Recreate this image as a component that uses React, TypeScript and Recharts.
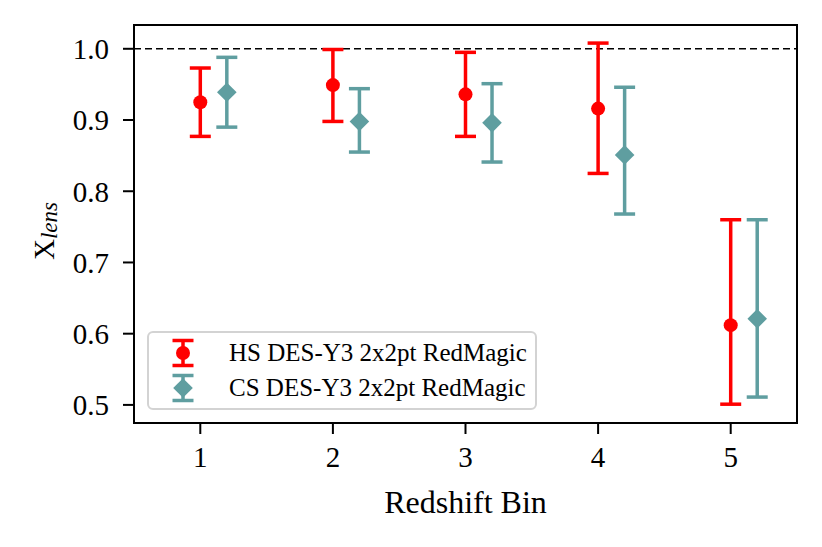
import React from 'react';
import { ScatterChart, Scatter, XAxis, YAxis, ErrorBar, ReferenceLine, ReferenceArea, Legend } from 'recharts';

const bins = [1, 2, 3, 4, 5];
const xTicks = [1, 2, 3, 4, 5];
const yTicks = [0.5, 0.6, 0.7, 0.8, 0.9, 1.0];
const xDomain = [0.5, 5.5];
const yDomain = [0.4746, 1.0334];
const hsValue = [0.925, 0.949, 0.936, 0.916, 0.612];
const hsLow = [0.877, 0.898, 0.877, 0.825, 0.501];
const hsHigh = [0.973, 0.999, 0.995, 1.008, 0.76];
const csValue = [0.939, 0.898, 0.896, 0.851, 0.621];
const csLow = [0.89, 0.855, 0.841, 0.768, 0.511];
const csHigh = [0.988, 0.944, 0.951, 0.946, 0.76];
const csShift = 0.2;
const seriesNames = ['HS DES-Y3 2x2pt RedMagic', 'CS DES-Y3 2x2pt RedMagic'];

const RED = '#ff0000';
const TEAL = '#5f9ea0';
const FONT = '"Liberation Serif", "Times New Roman", serif';

const hsData = bins.map((b, i) => ({ x: b, y: hsValue[i], err: [hsValue[i] - hsLow[i], hsHigh[i] - hsValue[i]] }));
const csData = bins.map((b, i) => ({ x: b + csShift, y: csValue[i], err: [csValue[i] - csLow[i], csHigh[i] - csValue[i]] }));

const CircleShape = (props: any) => {
  const { cx, cy } = props;
  if (cx == null || cy == null) return null;
  return <circle cx={cx} cy={cy} r={7} fill={RED} />;
};

const DiamondShape = (props: any) => {
  const { cx, cy } = props;
  if (cx == null || cy == null) return null;
  const d = 9.8;
  return <polygon points={`${cx},${cy - d} ${cx + d},${cy} ${cx},${cy + d} ${cx - d},${cy}`} fill={TEAL} />;
};

const LegendIcon = ({ color, kind }: { color: string; kind: 'circle' | 'diamond' }) => (
  <svg width={40} height={30} style={{ display: 'block' }}>
    <line x1={20} y1={2.5} x2={20} y2={27.5} stroke={color} strokeWidth={3.5} />
    <line x1={9.5} y1={2.5} x2={30.5} y2={2.5} stroke={color} strokeWidth={3.5} />
    <line x1={9.5} y1={27.5} x2={30.5} y2={27.5} stroke={color} strokeWidth={3.5} />
    {kind === 'circle' ? (
      <circle cx={20} cy={15} r={7} fill={color} />
    ) : (
      <polygon points="20,5.2 29.8,15 20,24.8 10.2,15" fill={color} />
    )}
  </svg>
);

const LegendBox = () => (
  <div
    style={{
      boxSizing: 'border-box',
      width: 390,
      height: 79,
      border: '2px solid #d3d3d3',
      borderRadius: 6,
      background: 'rgba(255,255,255,0.85)',
      padding: '2px 0 0 14px',
      fontFamily: FONT,
      fontSize: 25,
      color: '#000',
    }}
  >
    {[
      { name: seriesNames[0], color: RED, kind: 'circle' as const },
      { name: seriesNames[1], color: TEAL, kind: 'diamond' as const },
    ].map((e) => (
      <div key={e.name} style={{ display: 'flex', alignItems: 'center', height: 35 }}>
        <LegendIcon color={e.color} kind={e.kind} />
        <span style={{ marginLeft: 26, lineHeight: '35px', whiteSpace: 'nowrap' }}>{e.name}</span>
      </div>
    ))}
  </div>
);

const YLabel = (props: any) => {
  const vb = props.viewBox || { x: 0, y: 0, width: 0, height: 0 };
  const x = vb.x + 54;
  const y = vb.y + vb.height / 2 + 7;
  return (
    <text x={x} y={y} transform={`rotate(-90, ${x}, ${y})`} textAnchor="middle" fontFamily={FONT} fill="#000">
      <tspan fontSize={29}>X</tspan>
      <tspan fontSize={23} fontStyle="italic" dy={3}>lens</tspan>
    </text>
  );
};

const XLabel = (props: any) => {
  const vb = props.viewBox || { x: 0, y: 0, width: 0, height: 0 };
  return (
    <text x={vb.x + vb.width / 2} y={vb.y + 90} textAnchor="middle" fontFamily={FONT} fontSize={32} fill="#000">
      Redshift Bin
    </text>
  );
};

export default function App() {
  return (
    <div style={{ position: 'absolute', left: 0, top: 0, width: 822, height: 547, background: '#fff' }}>
      <ScatterChart width={822} height={547} margin={{ top: 25, right: 25, bottom: 24, left: 0 }}>
        <XAxis
          xAxisId="main"
          type="number"
          dataKey="x"
          domain={xDomain}
          ticks={xTicks}
          allowDataOverflow
          height={100}
          tickSize={11}
          tickMargin={12}
          axisLine={{ stroke: '#000', strokeWidth: 2 }}
          tickLine={{ stroke: '#000', strokeWidth: 2 }}
          tick={{ fill: '#000', fontSize: 29, fontFamily: FONT }}
          label={<XLabel />}
        />
        <YAxis
          yAxisId="main"
          type="number"
          dataKey="y"
          domain={yDomain}
          ticks={yTicks}
          allowDataOverflow
          width={134}
          tickSize={11}
          tickMargin={14}
          tickFormatter={(v: number) => v.toFixed(1)}
          axisLine={{ stroke: '#000', strokeWidth: 2 }}
          tickLine={{ stroke: '#000', strokeWidth: 2 }}
          tick={{ fill: '#000', fontSize: 29, fontFamily: FONT }}
          label={<YLabel />}
        />
        <ReferenceArea
          xAxisId="main"
          yAxisId="main"
          x1={xDomain[0]}
          x2={xDomain[1]}
          y1={yDomain[0]}
          y2={yDomain[1]}
          fill="none"
          fillOpacity={0}
          stroke="#000"
          strokeWidth={2}
          ifOverflow="visible"
        />
        <ReferenceLine xAxisId="main" yAxisId="main" y={1.0} stroke="#000" strokeWidth={1.5} strokeDasharray="7 4" />
        <Scatter
          xAxisId="main"
          yAxisId="main"
          name={seriesNames[0]}
          data={hsData}
          fill={RED}
          shape={<CircleShape />}
          isAnimationActive={false}
        >
          <ErrorBar dataKey="err" direction="y" width={10.5} stroke={RED} strokeWidth={3.5} isAnimationActive={false} />
        </Scatter>
        <Scatter
          xAxisId="main"
          yAxisId="main"
          name={seriesNames[1]}
          data={csData}
          fill={TEAL}
          shape={<DiamondShape />}
          isAnimationActive={false}
        >
          <ErrorBar dataKey="err" direction="y" width={10.5} stroke={TEAL} strokeWidth={3.5} isAnimationActive={false} />
        </Scatter>
        <Legend
          layout="horizontal"
          verticalAlign="middle"
          align="center"
          content={() => <LegendBox />}
          wrapperStyle={{ position: 'absolute', left: 147, top: 331, width: 390, height: 79 }}
        />
      </ScatterChart>
    </div>
  );
}
